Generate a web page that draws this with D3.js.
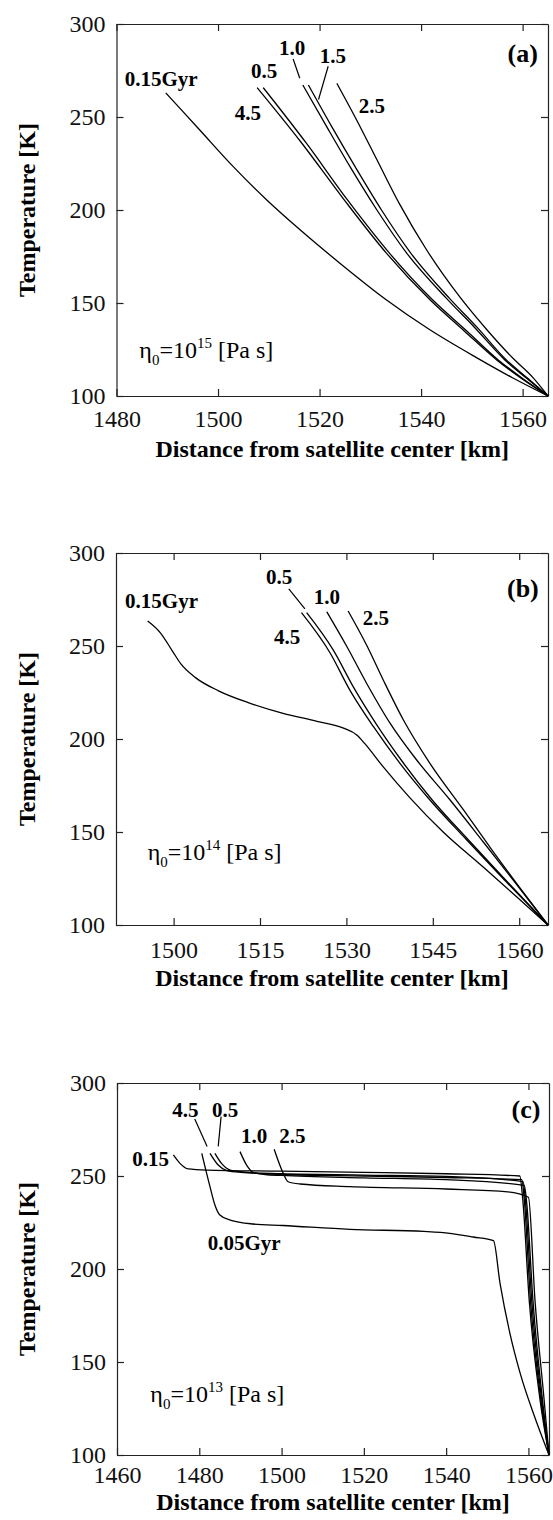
<!DOCTYPE html>
<html>
<head>
<meta charset="utf-8">
<script src="https://cdn.jsdelivr.net/npm/d3@7"></script>
<style>
  body { margin: 0; background: #fff; }
  text { font-family: "Liberation Serif", "Times New Roman", serif; }
</style>
</head>
<body>
<svg id="chart"></svg>
<script>
// Axis ticks and ranges
const yTicks = [100, 150, 200, 250, 300];
const yDomain = [100, 300];
const xTicksA = [1480, 1500, 1520, 1540, 1560];
const xTicksB = [1500, 1515, 1530, 1545, 1560];
const xTicksC = [1460, 1480, 1500, 1520, 1540, 1560];
const xDomainA = [1480, 1565];
const xDomainB = [1490, 1565];
const xDomainC = [1460, 1565];

// (a) eta0 = 1e15 Pa s : [distance km, temperature K]
const a015 = [[1489.7,263],[1496.4,243],[1503.0,223.3],[1509.6,205.4],[1516.1,189.5],[1524.0,171.4],[1533.2,151.6],[1541.5,136],[1551,120.5],[1558,109.8],[1565,100]];
const a05 = [[1508.9,265.8],[1517.4,235.9],[1525.5,205.4],[1533.8,176.7],[1542.3,151.6],[1549,135],[1555.2,119.4],[1560.2,109],[1565,100]];
const a10 = [[1516.7,267.2],[1521.4,244.8],[1526.0,223.3],[1531.3,200],[1537.2,176.7],[1545.0,152.5],[1550.5,137],[1556.5,119.4],[1560.8,109.5],[1565,100]];
const a15 = [[1517.8,267.2],[1522.4,244.8],[1527.0,223.3],[1532.2,200],[1538.0,176.7],[1545.6,152.5],[1551,137],[1556.8,119.4],[1561,109.5],[1565,100]];
const a25 = [[1523.4,268.1],[1527.3,248.4],[1531.3,227],[1535.8,203],[1541.1,178.5],[1547.7,153],[1553,135.5],[1558.2,120],[1562,110],[1565,100]];
const a45 = [[1507.7,265.8],[1516.4,236.3],[1524.7,206],[1533.2,176.7],[1541.8,151.6],[1548.5,135],[1554.9,119.4],[1560,109],[1565,100]];

// (b) eta0 = 1e14 Pa s
const b015 = [[1495.5,263.4],[1497.7,257.1],[1499.8,247.3],[1501.3,240.2],[1503.8,233],[1507.8,225.9],[1513.3,219.2],[1519,213.8],[1524.9,209.5],[1529.5,205.8],[1531.8,202.2],[1533.2,197.5],[1536.4,185],[1541,168.5],[1546.8,150],[1553.8,131],[1559.6,115],[1565,100]];
const b05 = [[1523.1,267.9],[1527.7,247.9],[1531.3,227.5],[1535.3,207.5],[1539.8,187.5],[1544.9,167.2],[1551.2,145.7],[1557.4,125],[1565,100]];
const b10 = [[1526.6,268.4],[1530.1,249.6],[1533.5,230],[1537.6,208.4],[1542.2,188.7],[1548,167.2],[1553.8,144.5],[1559.5,122],[1565,100]];
const b25 = [[1530.3,268.8],[1533.5,250.5],[1536.4,231.7],[1539.9,210.2],[1544.5,186.9],[1550.3,162],[1555,141.5],[1560,120.5],[1565,100]];
const b45 = [[1522.2,267.9],[1527.2,246.1],[1530.6,226.3],[1534.7,206.6],[1539.3,186.9],[1544.5,167.2],[1550.9,145.7],[1557.2,125],[1565,100]];

// (c) eta0 = 1e13 Pa s
const c005 = [[1480.6,262.2],[1482.6,244.3],[1483.8,234.4],[1485,229],[1487.5,226.3],[1493.1,224.2],[1500.3,223.4],[1516.6,221.3],[1534.6,220.2],[1540.9,219.2],[1546.6,217.2],[1551.5,215.2],[1553.1,192.3],[1555.5,165.4],[1558,143.9],[1561.2,122.4],[1565,100]];
const c015 = [[1473.7,261.3],[1475.3,256.8],[1477.3,253.8],[1481.8,253.2],[1500,252.6],[1520,252],[1540,251.2],[1557.9,250],[1558.6,238],[1560.2,183],[1562.8,130],[1565,100]];
const c05 = [[1483.8,262.2],[1485.4,256.8],[1487.5,253.2],[1490,252.3],[1500,250.8],[1520,250],[1540,249.2],[1558.4,248],[1559,237],[1560.5,183],[1563,130],[1565,100]];
const c10 = [[1489.9,263.1],[1491.5,255.9],[1493.1,252],[1496,250.8],[1500,250.3],[1520,249],[1540,248],[1559,245],[1559.6,235],[1561.1,183],[1563.4,130],[1565,100]];
const c25 = [[1498.2,264.4],[1500.4,251.5],[1501.6,246.9],[1504.5,245.7],[1516.6,244.3],[1540,243],[1555,241.5],[1560,238.6],[1561.6,183],[1563.8,130],[1565,100]];
const c45 = [[1482.6,262.2],[1484.6,255.9],[1486.7,252.9],[1490,252],[1500,251.2],[1520,250.5],[1540,249.8],[1558.7,247],[1559.3,236],[1560.8,183],[1563.2,130],[1565,100]];

// curve labels in data units [text, x, T]
const labelsA = [['0.15Gyr',1488.8,266.7],['0.5',1509.1,271],['4.5',1505.9,248.4],['1.0',1514.6,283.3],['1.5',1522.6,279],['2.5',1530.3,252.2]];
const labelsB = [['0.15Gyr',1497.9,270.4],['0.5',1518.3,283.3],['1.0',1526.6,272.6],['2.5',1535.1,261.3],['4.5',1519.7,251.3]];
const labelsC = [['4.5',1476.6,281.7],['0.5',1486.3,281.7],['1.0',1493.3,267.7],['2.5',1502.6,267.7],['0.15',1468.2,255.4],['0.05Gyr',1490.9,210.2]];
const leadersA = [[1514.8,281.2,1516.1,270.8],[1521.7,277.3,1519.8,259.4]];
const leadersB = [[1520,280.7,1522.8,270]];
const leadersC = [[1478.9,280.6,1481.9,265.9],[1485.3,281.9,1484.6,265.9]];

const width = 553, height = 1520;
const svg = d3.select('#chart').attr('width', width).attr('height', height);

const panels = [
  {top: 24, left: 116.5, right: 548, xDomain: xDomainA, xTicks: xTicksA,
   series: [a015, a05, a10, a15, a25, a45], labels: labelsA, leaders: leadersA,
   tag: '(a)', tagAt: [1563, 279.6], exp: '15', etaAt: [1484.5, 120.6], pad: 14, titleOff: 61},
  {top: 553, left: 116, right: 548, xDomain: xDomainB, xTicks: xTicksB,
   series: [b015, b05, b10, b25, b45], labels: labelsB, leaders: leadersB,
   tag: '(b)', tagAt: [1563.4, 276.3], exp: '14', etaAt: [1495.5, 135], pad: 16, titleOff: 61},
  {top: 1083, left: 117, right: 549, xDomain: xDomainC, xTicks: xTicksC,
   series: [c005, c015, c05, c10, c25, c45], labels: labelsC, leaders: leadersC,
   tag: '(c)', tagAt: [1562.9, 281.2], exp: '13', etaAt: [1468.1, 128.7], pad: 11, titleOff: 55}
];
const plotH = 372;

panels.forEach(p => {
  const x = d3.scaleLinear().domain(p.xDomain).range([p.left, p.right]);
  const y = d3.scaleLinear().domain(yDomain).range([p.top + plotH, p.top]);
  const g = svg.append('g');

  // frame with inward ticks on all four sides
  const styleAxis = sel => {
    sel.selectAll('path, line').attr('stroke', '#222').attr('stroke-width', 1.2);
    sel.selectAll('text').attr('font-size', 24).attr('font-family', '"Liberation Serif", serif').attr('fill', '#111');
  };
  g.append('g').attr('transform', 'translate(0,' + (p.top + plotH) + ')')
    .call(d3.axisBottom(x).tickValues(p.xTicks).tickFormat(d3.format('d'))
      .tickSizeInner(-7).tickSizeOuter(0).tickPadding(p.pad))
    .call(styleAxis);
  g.append('g').attr('transform', 'translate(0,' + p.top + ')')
    .call(d3.axisTop(x).tickValues(p.xTicks).tickFormat('').tickSizeInner(-7).tickSizeOuter(0))
    .call(styleAxis);
  g.append('g').attr('transform', 'translate(' + p.left + ',0)')
    .call(d3.axisLeft(y).tickValues(yTicks).tickFormat(d3.format('d'))
      .tickSizeInner(-7).tickSizeOuter(0).tickPadding(11))
    .call(styleAxis);
  g.append('g').attr('transform', 'translate(' + p.right + ',0)')
    .call(d3.axisRight(y).tickValues(yTicks).tickFormat('').tickSizeInner(-7).tickSizeOuter(0))
    .call(styleAxis);

  // axis titles
  g.append('text')
    .attr('x', (p.left + p.right) / 2).attr('y', p.top + plotH + p.titleOff)
    .attr('text-anchor', 'middle').attr('font-weight', 'bold').attr('font-size', 24)
    .text('Distance from satellite center [km]');
  g.append('text')
    .attr('transform', 'translate(35,' + (p.top + plotH / 2) + ') rotate(-90)')
    .attr('text-anchor', 'middle').attr('font-weight', 'bold').attr('font-size', 24)
    .text('Temperature [K]');

  // temperature profiles
  const line = d3.line().x(d => x(d[0])).y(d => y(d[1])).curve(d3.curveMonotoneX);
  g.selectAll('path.profile')
    .data(p.series)
    .enter()
    .append('path')
    .attr('class', 'profile')
    .attr('d', line)
    .attr('fill', 'none')
    .attr('stroke', '#000')
    .attr('stroke-width', 1.3);

  // leader lines and curve labels
  g.selectAll('line.leader')
    .data(p.leaders)
    .enter()
    .append('line')
    .attr('x1', d => x(d[0])).attr('y1', d => y(d[1]))
    .attr('x2', d => x(d[2])).attr('y2', d => y(d[3]))
    .attr('stroke', '#000').attr('stroke-width', 1.2);
  g.selectAll('text.lab')
    .data(p.labels)
    .enter()
    .append('text')
    .attr('x', d => x(d[1])).attr('y', d => y(d[2]))
    .attr('text-anchor', 'middle').attr('font-weight', 'bold').attr('font-size', 21)
    .text(d => d[0]);

  // panel tag
  g.append('text')
    .attr('x', x(p.tagAt[0])).attr('y', y(p.tagAt[1]))
    .attr('text-anchor', 'end').attr('font-weight', 'bold').attr('font-size', 26)
    .text(p.tag);

  // viscosity note
  const eta = g.append('text')
    .attr('x', x(p.etaAt[0])).attr('y', y(p.etaAt[1]))
    .attr('font-size', 24).style('white-space', 'pre');
  eta.append('tspan').text('η');
  eta.append('tspan').attr('font-size', 15).attr('dy', 7).text('0');
  eta.append('tspan').attr('dy', -7).text('=10');
  eta.append('tspan').attr('font-size', 15).attr('dy', -10).text(p.exp);
  eta.append('tspan').attr('dy', 10).text(' [Pa s]');
});
</script>
</body>
</html>
